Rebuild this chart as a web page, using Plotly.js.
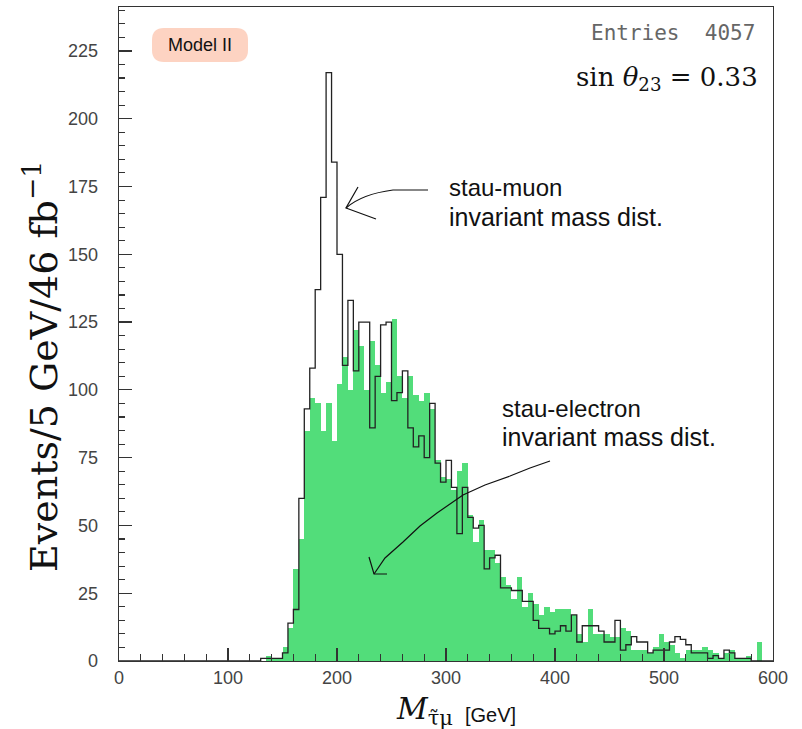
<!DOCTYPE html>
<html>
<head>
<meta charset="utf-8">
<script src="https://cdn.plot.ly/plotly-3.0.1.min.js"></script>
<style>html,body{margin:0;padding:0;background:#fff;}#chart{width:802px;height:729px;}</style>
</head>
<body>
<div id="chart"></div>
<script>
// ---- data (5 GeV bins from 0 to 600 GeV) ----
const binWidth = 5;
const nBins = 120;
// stau-muon invariant mass (black outline)
const muonCounts = [
  0,0,0,0,0,0,0,0,0,0, 0,0,0,0,0,0,0,0,0,0, 0,0,0,0,0,0,
  1,1,1,1,3,14,19,60,93,108,
  137,171,217,184,150,109,133,107,125,125,
  86,105,124,125,96,99,107,86,79,83,
  75,95,73,66,74,64,47,64,53,49,
  50,34,38,39,27,27,26,26,22,22,
  15,12,12,10,11,13,11,17,7,13,
  13,13,11,7,7,15,4,6,9,7,
  7,3,4,4,4,7,9,8,6,3,
  3,3,1,2,1,4,3,1,1,1,
  0,0,0,0
];
// stau-electron invariant mass (green filled)
const electronCounts = [
  0,0,0,0,0,0,0,0,0,0, 0,0,0,0,0,0,0,0,0,0, 0,0,0,0,0,0,
  0,2,1,1,5,12,34,45,85,97,
  95,85,95,81,102,112,100,122,116,100,
  118,109,99,103,126,105,97,105,98,96,
  99,93,74,68,67,63,70,73,54,44,
  52,41,41,36,31,28,23,31,20,25,
  21,17,20,18,19,19,19,17,10,7,
  19,10,10,10,9,9,12,11,4,4,
  4,3,5,10,7,6,3,1,4,4,
  4,5,4,3,1,3,4,1,1,2,
  0,7,0,0
];
const xTickVals = [0,100,200,300,400,500,600];
const yTickVals = [0,25,50,75,100,125,150,175,200,225];

// bin geometry derived from bin index
const binCenters = electronCounts.map((_, i) => i * binWidth + binWidth / 2);
const edges = [];
const stepY = [];
for (let i = 0; i < nBins; i++) { edges.push(i * binWidth); stepY.push(muonCounts[i]); }
edges.push(nBins * binWidth); stepY.push(muonCounts[nBins - 1]);

// ---- pixel helpers for decorations ----
const L = 119, R = 773, T = 7, B = 661;
const px = v => (v - L) / (R - L);
const py = v => (B - v) / (B - T);
function pathStr(list) {
  let s = '';
  for (const c of list) {
    if (typeof c === 'string') s += c + ' ';
    else s += px(c[0]).toFixed(5) + ',' + py(c[1]).toFixed(5) + ' ';
  }
  return s.trim();
}

const green = '#52dd7a';
const ink = '#222';

const traces = [
  {
    type: 'bar', x: binCenters, y: electronCounts, width: binWidth,
    marker: {color: green, line: {width: 0}}, hoverinfo: 'skip', showlegend: false
  },
  {
    type: 'scatter', mode: 'lines', x: edges, y: stepY,
    line: {shape: 'hv', color: ink, width: 1.3}, hoverinfo: 'skip', showlegend: false
  }
];

const r = 12;
const mb = {x0: 152, x1: 248, y0: 28, y1: 62};
const modelBox = pathStr([
  'M',[mb.x0 + r, mb.y0],'L',[mb.x1 - r, mb.y0],'Q',[mb.x1, mb.y0],[mb.x1, mb.y0 + r],
  'L',[mb.x1, mb.y1 - r],'Q',[mb.x1, mb.y1],[mb.x1 - r, mb.y1],
  'L',[mb.x0 + r, mb.y1],'Q',[mb.x0, mb.y1],[mb.x0, mb.y1 - r],
  'L',[mb.x0, mb.y0 + r],'Q',[mb.x0, mb.y0],[mb.x0 + r, mb.y0],'Z'
]);

const arrow1 = pathStr(['M',[428,190],'L',[393,190],'Q',[362,194],[346,208]]);
const arrow1Head = pathStr(['M',[358,187],'L',[346,208],'L',[376,219]]);
const arrow2 = pathStr(['M',[550,461],'L',[530,468],'L',[510,476],'L',[485,485],'L',[463,495],'L',[437,513],'L',[420,526],'L',[403,542],'L',[385,558],'L',[374,574]]);
const arrow2Head = pathStr(['M',[369,557],'L',[374,574],'L',[387,574]]);

const hand = {color: '#111', width: 1.2};
const shapes = [
  {type:'path', xref:'paper', yref:'paper', path: modelBox, fillcolor:'#fdd3c2', line:{width:0}, layer:'above'},
  {type:'path', xref:'paper', yref:'paper', path: arrow1, line: hand},
  {type:'path', xref:'paper', yref:'paper', path: arrow1Head, line: hand},
  {type:'path', xref:'paper', yref:'paper', path: arrow2, line: hand},
  {type:'path', xref:'paper', yref:'paper', path: arrow2Head, line: hand}
];

function ann(text, x, y, opts) {
  return Object.assign({xref:'paper', yref:'paper', x: px(x), y: py(y), text: text,
    showarrow:false, xanchor:'left', yanchor:'middle'}, opts);
}
const sans = 'Liberation Sans, Arial, sans-serif';
const serif = 'DejaVu Serif, Liberation Serif, serif';
const annotations = [
  ann('Model II', 200, 45, {xanchor:'center', font:{family:sans, size:18, color:'#111'}}),
  ann('Entries  4057', 757, 33, {xanchor:'right', font:{family:'DejaVu Sans Mono, monospace', size:21, color:'#666'}}),
  ann('sin <i>θ</i><sub>23</sub> = 0.33', 760, 78, {xanchor:'right', font:{family:serif, size:26, color:'#111'}}),
  ann('stau-muon', 447, 187, {font:{family:sans, size:24, color:'#111'}}),
  ann('invariant mass dist.', 447, 217, {font:{family:sans, size:25, color:'#111'}}),
  ann('stau-electron', 500, 408, {font:{family:sans, size:24, color:'#111'}}),
  ann('invariant mass dist.', 500, 437, {font:{family:sans, size:25, color:'#111'}}),
  ann('Events/5 GeV/46 fb<sup>−1</sup>', 41, 367, {xanchor:'center', textangle:-90, font:{family:serif, size:38, color:'#111'}}),
  ann('<i>M</i><sub>τ̃μ</sub>', 394, 710, {font:{family:serif, size:30, color:'#111'}}),
  ann('[GeV]', 463, 715, {font:{family:sans, size:20, color:'#111'}})
];

const axisCommon = {
  showline: true, linecolor: '#333', linewidth: 1.3, mirror: true,
  ticks: 'inside', tickcolor: '#333', tickwidth: 1.2, ticklen: 13,
  showgrid: false, zeroline: false,
  tickfont: {family: sans, size: 18, color: '#444'}
};

const layout = {
  width: 802, height: 729,
  margin: {l: L, r: 802 - R, t: T, b: 729 - B},
  paper_bgcolor: '#fff', plot_bgcolor: '#fff',
  bargap: 0,
  showlegend: false,
  xaxis: Object.assign({}, axisCommon, {
    range: [0, 600], tickvals: xTickVals, ticktext: xTickVals.map(String),
    minor: {dtick: 20, tick0: 0, ticks: 'inside', ticklen: 7, tickcolor: '#333', tickwidth: 1.1, showgrid: false}
  }),
  yaxis: Object.assign({}, axisCommon, {
    range: [0, 241.2], tickvals: yTickVals, ticktext: yTickVals.map(String),
    ticklabelstandoff: 16,
    minor: {dtick: 5, tick0: 0, ticks: 'inside', ticklen: 6, tickcolor: '#333', tickwidth: 1.1, showgrid: false}
  }),
  shapes: shapes,
  annotations: annotations
};

Plotly.newPlot('chart', traces, layout, {staticPlot: true});
</script>
</body>
</html>
